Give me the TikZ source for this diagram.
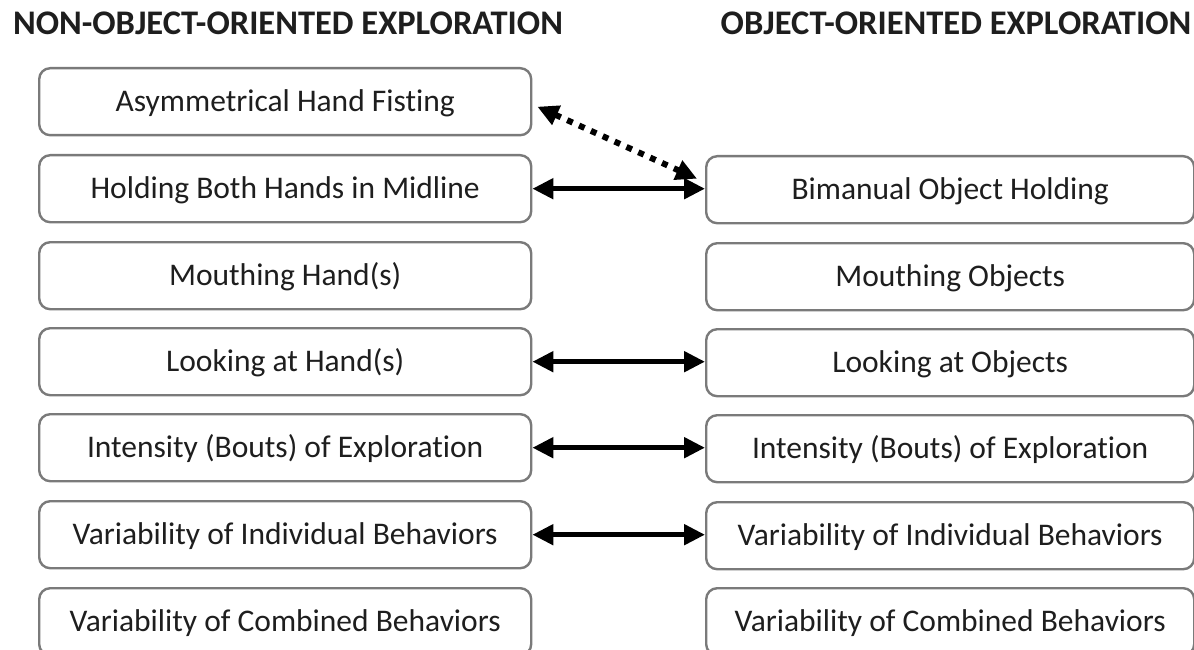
\documentclass[tikz,border=0pt]{standalone}
\usepackage{fontspec}
\setmainfont[Ligatures=CommonOff]{Carlito}
\usetikzlibrary{arrows.meta,calc}
\definecolor{boxline}{HTML}{7A7A7A}
\definecolor{txt}{HTML}{1E1E1E}
\tikzset{
  itembox/.style={draw=boxline, line width=2.4pt, rounded corners=11pt,
    minimum height=67pt, inner sep=0pt, font=\fontsize{31.5}{36}\selectfont,
    text=txt, text height=20.3pt, text depth=0pt, anchor=north west},
  lbox/.style={itembox, minimum width=492pt},
  rbox/.style={itembox, minimum width=488pt},
  title/.style={font=\bfseries\fontsize{34.5}{40}\selectfont, text=txt,
    inner sep=0pt, text height=22.2pt, text depth=0pt},
  biarrow/.style={line width=5pt, draw=black,
    {Triangle[length=21pt,width=20pt]}-{Triangle[length=21pt,width=20pt]}},
  dotarrow/.style={line width=6pt, draw=black, dash pattern=on 6pt off 7pt,
    {Triangle[length=21pt,width=20pt]}-{Triangle[length=21pt,width=20pt]}}
}
\begin{document}
\begin{tikzpicture}[x=1pt,y=-1pt]
\clip (0,0) rectangle (1194,650);
\useasboundingbox (0,0) rectangle (1194,650);
\node[title] (tl) at (288,23.5) {NON-OBJECT-ORIENTED EXPLORATION};
\node[title] (tr) at (956,23.5) {OBJECT-ORIENTED EXPLORATION};
\node[lbox] (a1) at (38,67)  {Asymmetrical Hand Fisting};
\node[lbox] (a2) at (38,154) {Holding Both Hands in Midline};
\node[lbox] (a3) at (38,241) {Mouthing Hand(s)};
\node[lbox] (a4) at (38,327) {Looking at Hand(s)};
\node[lbox] (a5) at (38,413) {Intensity (Bouts) of Exploration};
\node[lbox] (a6) at (38,500) {Variability of Individual Behaviors};
\node[lbox] (a7) at (38,587) {Variability of Combined Behaviors};
\node[rbox] (b2) at (705,155) {Bimanual Object Holding};
\node[rbox] (b3) at (705,242) {Mouthing Objects};
\node[rbox] (b4) at (705,328) {Looking at Objects};
\node[rbox] (b5) at (705,414) {Intensity (Bouts) of Exploration};
\node[rbox] (b6) at (705,501) {Variability of Individual Behaviors};
\node[rbox] (b7) at (705,587) {Variability of Combined Behaviors};
\draw[dotarrow] ($(a1.east)+(5,5)$) -- ($(b2.west)+(-8,-11)$);
\draw[biarrow] (a2.east) -- (a2.east -| b2.west);
\draw[biarrow] (a4.east) -- (a4.east -| b4.west);
\draw[biarrow] (a5.east) -- (a5.east -| b5.west);
\draw[biarrow] (a6.east) -- (a6.east -| b6.west);
\end{tikzpicture}
\end{document}
